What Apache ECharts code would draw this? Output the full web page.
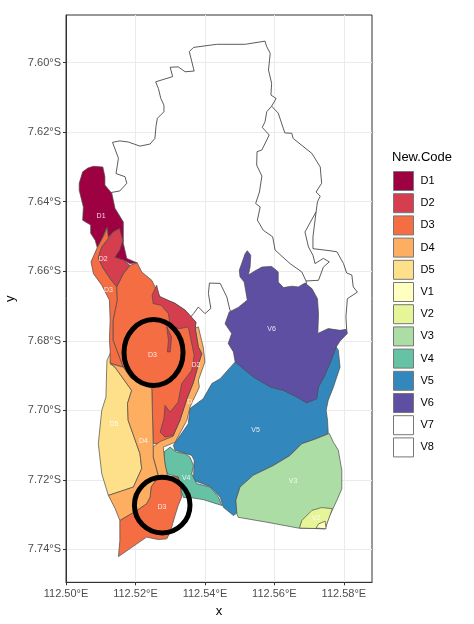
<!DOCTYPE html>
<html>
<head>
<meta charset="utf-8">
<style>html,body{margin:0;padding:0;background:#fff}#main{width:474px;height:624px}</style>
<script src="https://cdn.jsdelivr.net/npm/echarts@6/dist/echarts.min.js"></script>
</head>
<body>
<div id="main"></div>
<script>
// boundaries, as [millideg east of 112.5E, millideg south of 7S]
var V7 = [
  [[12.7,637.4],[15.5,636.9],[17.5,634.7],[17,632.8],[14.4,631.9],[15.1,627.5],[13.4,622.9],[15.5,622.5],[17.9,622.8],[21.3,624],[24.2,623.4],[25.6,621.8],[25.9,618.4],[26.3,616],[28.2,614.1],[28.2,612.2],[27.3,610.3],[26.6,607.4],[25.8,605.5],[30.7,604],[30,601.3],[32.3,601.2],[34.3,602.6],[36.9,602.4],[35.5,596.8],[36.7,595.6],[43.4,594.7],[51.6,594.7],[57.3,593.8],[57.8,595.4],[58.8,597.3],[58.3,602.1],[59.2,605.9],[59,609.3],[60.5,610.3],[59.2,612.5],[57.8,614.1],[57.3,617],[56.5,618.6],[58.5,620.8],[56.4,625.1],[55,625.6],[54.9,629.5],[56.4,632.6],[55.7,637.2],[54.6,640.5],[55.9,641.5],[55.1,645.3],[56.8,648.2],[59.5,650.1],[60.2,653.9],[64.5,657.8],[67.9,660.2],[69.1,662.8],[69.3,664]],
  [[48,672],[47.2,671.2],[46.3,667.4],[44.4,663.5],[41.3,663.4],[41,666.4],[41.7,670.7],[40,672.2],[38.1,670.3],[36.7,672.2],[35.5,673.6]]
];
var V8 = [
  [[59.2,612.5],[61.1,614.5],[63,620.2],[65,620.3],[65.4,621.8],[70.8,626.1],[73.2,630],[73.6,634.7],[72,637.2],[73.2,638.4],[72.4,640],[72,642.9],[71.1,650.1],[71.1,653.5],[76,654.1],[78,654.4],[79.9,657.8],[80.8,660.5],[82.3,661.1],[82.7,664.5],[83.9,666],[81,667.9],[80.6,673.2],[80.8,676.7]],
  [[72,642.9],[68.8,648.7],[69.8,653],[71.1,655.4],[71.7,657.8],[74.1,656.3],[75.8,657.3],[74.1,658.8],[72.7,662.6],[69.1,662.8]]
];
var V6 = [[[52.2,654.1],[53.2,655.4],[53,658.8],[52.5,661.1],[54.4,659.9],[56.4,658.8],[59.2,658.6],[61.1,660.2],[61.1,663.1],[62.6,664.7],[65,664.3],[66.9,664.5],[68.8,663.4],[70.8,665],[72.4,667.9],[72.7,672.2],[72.5,677.9],[75.5,676.5],[78.9,677],[80.8,676.7],[81,677.9],[78.9,680.1],[77.8,681.8],[76,686.6],[74.3,690.4],[72.7,693.3],[72.2,696.7],[69.3,697.9],[66.4,696.2],[62.6,694.3],[58.8,693.3],[53.9,690.4],[48.7,686.1],[48.2,683.2],[46.7,680.8],[47.7,677.9],[45.8,675.1],[47,671.7],[49.6,670.4],[52.2,668.3],[51.3,663.1],[50.1,661.6],[49.9,659.7],[51.6,654.9]]];
var V5 = [[[48.7,686.1],[44.4,690.9],[42,692.3],[39.5,696.7],[35.7,699.5],[35.2,703.9],[30.9,710.1],[31.4,711.5],[36.2,713],[36.9,714.4],[36.7,720.2],[41.5,721.9],[44.4,725],[45.3,727.9],[48.2,730.3],[49.6,729.3],[48.9,725.9],[50.1,722.1],[53.9,718.7],[59.7,715.9],[64.5,713],[67.9,709.6],[71.2,708.5],[75.5,706.7],[75.3,702.9],[74.9,700],[75.5,697.1],[77,693.3],[78.9,687.6],[78.4,682.7],[77.8,681.8],[67.4,688.5]]];
var V3 = [[[75.8,706.7],[77,709.2],[78.4,711.5],[79.4,717.3],[79.4,722.6],[78,725.9],[75.5,731.2],[74.6,734.1],[66.9,733.9],[57.8,732.2],[49.6,730.8],[49.2,729.8],[48.9,725.9],[50.1,722.1],[53.9,718.7],[59.7,715.9],[64.5,713],[67.9,709.6],[71.2,708.5]]];
var V2 = [[[67.2,733.9],[67.9,731.7],[70.8,728.8],[73.6,728],[76.7,728.3],[74.6,734.1]]];
var V1 = [[[72,733.9],[72.7,732.7],[74.6,731.9],[74.9,734.1]]];
var V4 = [[[28.2,712],[30,710.6],[31.7,712],[34.3,712.5],[35.7,713.5],[36.7,715.9],[36.2,718.3],[37.6,721.1],[41.5,722.1],[43.9,725],[44.9,727.4],[39.5,725.7],[35.7,725.1],[33.8,725.1],[32.8,722.1],[32.3,719.2],[29.2,718.3],[28.5,715.9]]];
var D1 = [[[6.3,630.3],[7.9,629.8],[10.6,630],[11.2,632.8],[11.2,635.2],[13.2,637.6],[14.1,641.9],[16.5,645.8],[16.5,652],[17.5,656.3],[20.5,657.6],[18.4,657.8],[16.5,656.8],[14.1,656],[14.6,653.9],[15.5,650.1],[15.4,647.7],[13.6,648.7],[12.2,650.3],[11.7,647.4],[10.7,650.1],[9,653.2],[8.4,651.1],[7.1,649.1],[7.1,646.7],[4.8,645.3],[5,641.5],[3.8,636.7],[3.8,634.7],[4.8,631.4]]];
var D5 = [[[13.2,682.7],[11.8,685.6],[11.7,688.5],[11.5,696.2],[10.3,700],[9.3,709.6],[10.3,718.3],[12.2,724.5],[19.4,722.1],[21.8,716.8],[21.3,712.5],[17.9,702.9],[17.7,698.1],[18.9,694.3],[14.1,687.6],[12.7,686.4]]];
var D3 = [
  [[10.7,650.1],[11.9,647.4],[12.2,650.6],[10.3,653],[9.3,656.2],[10.7,659.1],[12.7,662.1],[14.6,664.5],[14.8,668.3],[13.6,674.1],[13.6,679.9],[16.5,687.6],[12.7,686.4],[12.7,682.7],[12.5,679.9],[12.7,674.1],[12.5,668.3],[10.3,664],[7.9,660.7],[7.2,657.3],[9,653.2]],
  [[14.6,664.5],[16.5,660.7],[18.4,658.3],[20.5,657.6],[21.8,660.2],[24.7,662.6],[27.1,667.5],[31.4,669.2],[34.3,671.2],[37.4,674.7],[37.2,676.4],[38.6,681.3],[38.6,687.1],[36.6,692.2],[34.8,697.1],[32.8,702.9],[30.8,707.8],[27.1,709.5],[25.1,709.6],[24.7,693.7],[18.7,690.8],[16.5,687.6],[13.6,679.9],[13.6,674.1],[14.8,668.3]],
  [[25.2,713.6],[26.5,713.3],[27.1,717.3],[26.5,719]],
  [[24.5,722.1],[26.6,719],[30,719],[32.3,719.2],[33,722.1],[33.3,725],[32.3,727.4],[31.4,730.3],[30,735.1],[29,737],[26.6,737.2],[23.2,736.5],[15.1,742.1],[15.5,737.5],[15.5,731.7],[20.4,728.8],[23.2,726.9],[24.2,725]]
];
var D2 = [
  [[15.4,647.7],[16.4,651.1],[15.5,653.9],[14.1,656],[16.5,656.8],[18.4,658.3],[16.5,660.7],[14.6,664.5],[12.7,662.1],[10.7,659.1],[9.3,656.2],[10.3,653],[12.2,650.6],[13.6,648.7]],
  [[26.1,664],[26.9,667.2],[31.4,669.3],[34.3,671.2],[37.4,674.6],[37.2,676.5],[38.1,681.8],[39.1,683.7],[38.3,686.2],[36.6,692.2],[34.8,696.7],[32.8,702.9],[30.9,707.2],[28.5,707.7],[27.1,706.3],[28.2,702.4],[28.5,698.6],[30,700.5],[32.3,697.6],[33.3,692.3],[36.2,688.5],[36.9,684.2],[36.3,681.3],[35.2,676],[32.8,676.5],[30,676],[29.5,672.2],[27.4,669.8],[25.1,669.3],[24.8,666.9]],
  [[29,676],[30.4,678.9],[30,683.2],[29.2,683.2],[29.5,679.9]]
];
var D4 = [
  [[37.2,676.4],[38.1,676],[39.5,681.8],[40,686.1],[38.1,691.4],[38.4,693.3],[35.7,699.1],[34.8,702.9],[31.4,709.2],[28,710.6],[28.5,715.4],[29.2,718.7],[26.6,719],[25.1,713.5],[25,710.6],[27.1,709],[30.8,707.5],[32.8,702.9],[34.8,696.7],[36.6,692.2],[38.3,686.2],[39.1,683.7],[38.1,681.8]],
  [[12.7,686.6],[16.5,687.6],[18.7,690.8],[24.7,693.7],[25.1,709.6],[25.1,713.5],[26.6,719],[24.5,722.1],[24.2,725],[23.2,726.9],[20.4,728.8],[15.5,731.7],[14.1,728.2],[12.2,724.5],[19.4,722.1],[21.8,716.8],[21.3,712.5],[17.9,702.9],[17.7,698.1],[18.9,694.3],[14.1,687.6]]
];
var categories = ['D1','D2','D3','D4','D5','V1','V2','V3','V4','V5','V6','V7','V8'];
var colors = ['#9E0142','#D53E4F','#F46D43','#FDAE61','#FEE08B','#FFFFBF','#E6F598','#ABDDA4','#66C2A5','#3288BD','#5E4FA2','#FFFFFF','#FFFFFF'];
var shapes = {D1:D1,D2:D2,D3:D3,D4:D4,D5:D5,V1:V1,V2:V2,V3:V3,V4:V4,V5:V5,V6:V6,V7:V7,V8:V8};
// painter's order, the picture stacks them like this
var drawOrder = ['V7','V8','V5','V6','V3','V2','V1','V4','D1','D5','D3','D4','D2'];
var outlineOnly = ['V7','V8'];
var regionLabels = [['D1',10.1,644.1],['D2',10.7,656.5],['D3',12.2,665.3],['D3',24.9,684.2],['D2',37.4,687.1],['D4',36.2,697.6],['D5',13.8,703.9],['D4',22.3,709],['V4',34.6,719.4],['D3',27.6,727.9],['V3',65.4,720.5],['V5',54.6,705.8],['V6',59.2,676.5],['V2',72,731]];
// hand drawn circles: centre and radii, same units
var circles = [[25.2,683.4,8.5,9.5],[27.7,727.3,8,8]];
var lonTicks = [112.50,112.52,112.54,112.56,112.58];
var latTicks = [-7.60,-7.62,-7.64,-7.66,-7.68,-7.70,-7.72,-7.74];

function lonLat(p) {
  return [112.5 + p[0] / 1000, -7 - p[1] / 1000];
}

var myChart = echarts.init(document.getElementById('main'), null, {renderer: 'canvas'});

var series = drawOrder.map(function (name) {
  var rings = shapes[name];
  var color = colors[categories.indexOf(name)];
  var outline = outlineOnly.indexOf(name) >= 0;
  return {
    name: name,
    type: 'custom',
    coordinateSystem: 'cartesian2d',
    silent: true,
    clip: true,
    itemStyle: {color: color},
    encode: {x: 0, y: 1},
    data: rings.map(function (r) { return lonLat(r[0]); }),
    renderItem: function (params, api) {
      var pts = rings[params.dataIndex].map(function (p) { return api.coord(lonLat(p)); });
      return {
        type: outline ? 'polyline' : 'polygon',
        shape: {points: pts},
        style: {fill: outline ? 'none' : color, stroke: '#4a4a4a', lineWidth: outline ? 0.9 : 0.7}
      };
    }
  };
});

// text inside the regions
series.push({
  name: 'labels',
  type: 'custom',
  silent: true,
  encode: {x: 0, y: 1},
  data: regionLabels.map(function (l) { return lonLat([l[1], l[2]]); }),
  renderItem: function (params, api) {
    var c = api.coord([api.value(0), api.value(1)]);
    return {
      type: 'text',
      style: {
        x: c[0], y: c[1], text: regionLabels[params.dataIndex][0],
        fill: 'rgba(255,255,255,0.85)', font: '7px "Liberation Sans"',
        align: 'center', verticalAlign: 'middle'
      }
    };
  }
});

// the two black circles on top
series.push({
  name: 'circles',
  type: 'custom',
  silent: true,
  encode: {x: 0, y: 1},
  data: circles.map(function (c) { return lonLat(c); }),
  renderItem: function (params, api) {
    var c = circles[params.dataIndex];
    var p = api.coord(lonLat(c));
    var s = api.size([c[2] / 1000, c[3] / 1000]);
    return {
      type: 'ellipse',
      shape: {cx: p[0], cy: p[1], rx: s[0], ry: s[1]},
      style: {fill: 'none', stroke: '#000', lineWidth: 5}
    };
  }
});

myChart.setOption({
  animation: false,
  textStyle: {fontFamily: '"Liberation Sans", Arial, sans-serif'},
  title: {
    text: 'New.Code', left: 392, top: 151, padding: 0,
    textStyle: {fontSize: 13, fontWeight: 'normal', color: '#000'}
  },
  legend: {
    orient: 'vertical', left: 393, top: 171, padding: 0,
    itemWidth: 20, itemHeight: 19, itemGap: 2.2,
    icon: 'rect', selectedMode: false,
    data: categories,
    itemStyle: {borderColor: '#777', borderWidth: 1},
    textStyle: {fontSize: 11, color: '#000', padding: [0, 0, 0, 2]}
  },
  grid: {left: 66, top: 15, width: 306, height: 567.3, show: true, borderColor: '#333', borderWidth: 1, containLabel: false, outerBoundsMode: 'none'},
  xAxis: {
    type: 'value', min: 112.5, max: 112.5881,
    name: 'x', nameLocation: 'middle', nameGap: 23,
    nameTextStyle: {fontSize: 13, color: '#000'},
    axisLine: {show: true, lineStyle: {color: '#333'}},
    axisTick: {show: true, length: 3, lineStyle: {color: '#333'}, customValues: lonTicks},
    axisLabel: {fontSize: 11, color: '#4d4d4d', margin: 6, showMinLabel: true, showMaxLabel: true, customValues: lonTicks, formatter: function (v) { return v.toFixed(2) + '°E'; }},
    splitLine: {show: true, lineStyle: {color: '#ebebeb', width: 1}}
  },
  yAxis: {
    type: 'value', min: -7.7495, max: -7.58627,
    name: 'y', nameLocation: 'middle', nameGap: 41,
    nameTextStyle: {fontSize: 13, color: '#000'},
    axisLine: {show: true, lineStyle: {color: '#333'}},
    axisTick: {show: true, length: 3, lineStyle: {color: '#333'}, customValues: latTicks},
    axisLabel: {fontSize: 11, color: '#4d4d4d', margin: 5, customValues: latTicks, formatter: function (v) { return Math.abs(v).toFixed(2) + '°S'; }},
    splitLine: {show: true, lineStyle: {color: '#ebebeb', width: 1}}
  },
  series: series
});
</script>
</body>
</html>
